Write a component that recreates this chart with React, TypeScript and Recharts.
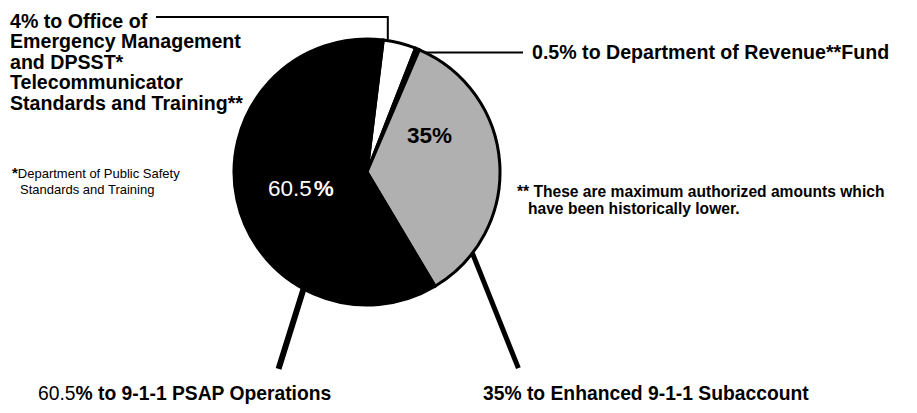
import { PieChart, Pie, Cell } from 'recharts';

// 9-1-1 tax distribution
const sliceNames = [
  'Office of Emergency Management and DPSST',
  'Department of Revenue Fund',
  'Enhanced 9-1-1 Subaccount',
  '9-1-1 PSAP Operations',
];
const sliceShares = [4, 0.5, 35, 60.5];
const sliceColors = ['#ffffff', '#000000', '#b0b0b0', '#000000'];

const officeLabelLines = [
  '4% to Office of',
  'Emergency Management',
  'and DPSST*',
  'Telecommunicator',
  'Standards and Training**',
];
const revenueLabel = '0.5% to Department of Revenue**Fund';
const subaccountLabel = '35% to Enhanced 9-1-1 Subaccount';
const psapLabel = ['60.5', '% to 9-1-1 PSAP Operations'];
const dpsstNote = ['Department of Public Safety', 'Standards and Training'];
const maxNote = ['** These are maximum authorized amounts which', 'have been historically lower.'];

const data = sliceNames.map((name, i) => ({ name, value: sliceShares[i] }));

const W = 917;
const H = 413;
const CX = 367;
const CY = 172;
const R = 133;
const FONT = '"Liberation Sans", Arial, Helvetica, sans-serif';
const RAD = Math.PI / 180;

function edge(cx: number, cy: number, r: number, deg: number) {
  return { x: cx + r * Math.cos(-deg * RAD), y: cy + r * Math.sin(-deg * RAD) };
}

function renderLabel(props: any) {
  const { cx, cy, outerRadius, index } = props;
  const big = { fontFamily: FONT, fontSize: 19.3, fontWeight: 700, fill: '#000' };

  if (index === 0) {
    const p = edge(cx, cy, outerRadius, 81);
    const top = cy - 155;
    return (
      <g>
        <polyline
          points={`${p.x},${p.y} ${p.x},${top} ${cx - 211},${top}`}
          fill="none"
          stroke="#000"
          strokeWidth={2}
        />
        <text x={cx - 357} y={cy - 144} {...big} fontSize={19.6}>
          {officeLabelLines.map((t, i) => (
            <tspan key={i} x={cx - 357} dy={i === 0 ? 0 : 20.4}>
              {t}
            </tspan>
          ))}
        </text>
      </g>
    );
  }
  if (index === 1) {
    const p = edge(cx, cy, outerRadius, 64);
    return (
      <g>
        <line x1={p.x} y1={p.y} x2={cx + 156} y2={p.y} stroke="#000" strokeWidth={2} />
        <text x={cx + 165} y={p.y + 7} {...big} fontSize={19.6}>
          {revenueLabel}
        </text>
      </g>
    );
  }
  if (index === 2) {
    const p = edge(cx, cy, outerRadius, -37.6);
    return (
      <g>
        <line x1={p.x} y1={p.y} x2={p.x + 46} y2={p.y + 115} stroke="#000" strokeWidth={5} />
        <text x={cx + 40} y={cy - 29} {...big} fontSize={22.5}>
          35%
        </text>
        <text x={cx + 116} y={cy + 228} {...big}>
          {subaccountLabel}
        </text>
      </g>
    );
  }
  const p = edge(cx, cy, outerRadius, 241.5);
  return (
    <g>
      <line x1={p.x} y1={p.y} x2={p.x - 25} y2={p.y + 80} stroke="#000" strokeWidth={6} />
      <text x={cx - 99} y={cy + 24} fontFamily={FONT} fontSize={22.5} fill="#fff">
        60.5<tspan fontWeight={700} dx={2}>%</tspan>
      </text>
      <text x={cx - 329} y={cy + 228} {...big}>
        <tspan fontWeight={400}>{psapLabel[0]}</tspan>
        {psapLabel[1]}
      </text>
    </g>
  );
}

export default function App() {
  return (
    <div style={{ position: 'absolute', left: 0, top: 0, width: W, height: H, background: '#fff' }}>
      <PieChart width={W} height={H} margin={{ top: 0, right: 0, bottom: 0, left: 0 }}>
        <Pie
          data={data}
          dataKey="value"
          nameKey="name"
          cx={CX}
          cy={CY}
          outerRadius={R}
          startAngle={83}
          endAngle={-277}
          stroke="#000"
          strokeWidth={3}
          label={renderLabel}
          labelLine={false}
          isAnimationActive={false}
        >
          {data.map((d, i) => (
            <Cell key={d.name} fill={sliceColors[i]} />
          ))}
        </Pie>
      </PieChart>
      <svg width={W} height={H} style={{ position: 'absolute', left: 0, top: 0, pointerEvents: 'none' }}>
        <text x={12} y={178} fontFamily={FONT} fontSize={13} fill="#000">
          <tspan fontWeight={700} fontSize={15}>*</tspan>
          {dpsstNote[0]}
          <tspan x={20} dy={16}>
            {dpsstNote[1]}
          </tspan>
        </text>
        <text x={517} y={197} fontFamily={FONT} fontSize={15.6} fontWeight={700} fill="#000">
          {maxNote[0]}
          <tspan x={528} dy={16.5}>
            {maxNote[1]}
          </tspan>
        </text>
      </svg>
    </div>
  );
}
